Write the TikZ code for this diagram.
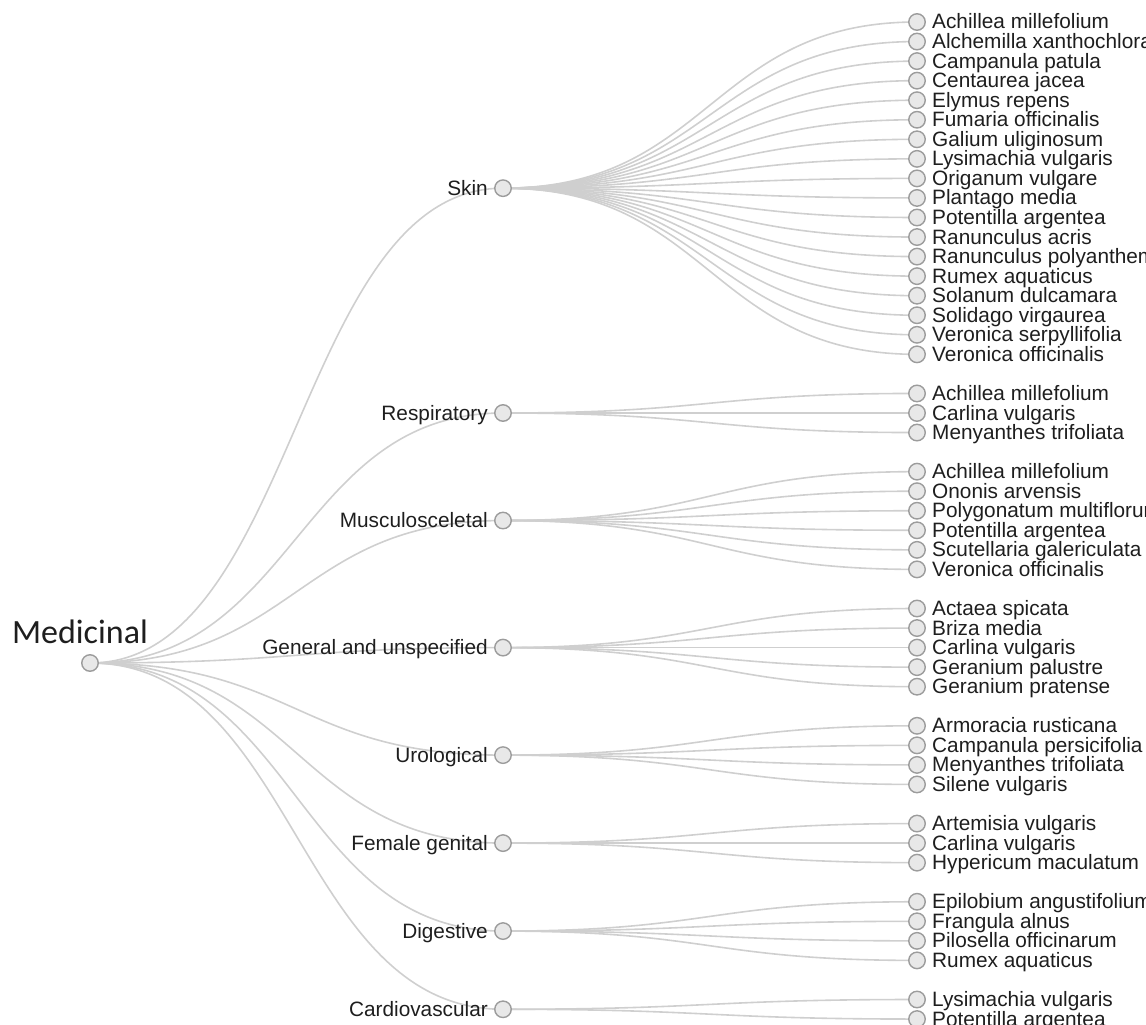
\documentclass[tikz,border=0pt]{standalone}
\usepackage{fontspec}
\setmainfont{Liberation Sans}
\newfontfamily\calibrifont{Carlito}
\usetikzlibrary{backgrounds}
\definecolor{dotline}{HTML}{9C9C9C}
\definecolor{dotfill}{HTML}{E8E8E8}
\definecolor{linkc}{HTML}{CFCFCF}
\definecolor{txtc}{HTML}{1E1E1E}
\begin{document}
\begin{tikzpicture}[x=1pt,y=-1pt,
  dot/.style={circle,draw=dotline,fill=dotfill,line width=1.4pt,minimum size=16.5pt,inner sep=0pt},
  lnk/.style={draw=linkc,line width=1.6pt},
  lbl/.style={font=\fontsize{20.8}{20.8}\selectfont,text=txtc,inner sep=0pt}]
\useasboundingbox (0,0) rectangle (1146,1025);
\clip (0,0) rectangle (1146,1025);
\node[dot] (root) at (90,663) {};
\node[font=\calibrifont\fontsize{34}{34}\selectfont,text=txtc,anchor=base,inner sep=0pt] (title) at ([xshift=-10pt,yshift=20pt]root.center) {Medicinal};
\foreach \cname/\ka/\kb/\leaves [count=\c] in {
  Skin/0/17/{Achillea millefolium,Alchemilla xanthochlora,Campanula patula,Centaurea jacea,Elymus repens,Fumaria officinalis,Galium uliginosum,Lysimachia vulgaris,Origanum vulgare,Plantago media,Potentilla argentea,Ranunculus acris,Ranunculus polyanthemos,Rumex aquaticus,Solanum dulcamara,Solidago virgaurea,Veronica serpyllifolia,Veronica officinalis},
  Respiratory/19/21/{Achillea millefolium,Carlina vulgaris,Menyanthes trifoliata},
  Musculosceletal/23/28/{Achillea millefolium,Ononis arvensis,Polygonatum multiflorum,Potentilla argentea,Scutellaria galericulata,Veronica officinalis},
  General and unspecified/30/34/{Actaea spicata,Briza media,Carlina vulgaris,Geranium palustre,Geranium pratense},
  Urological/36/39/{Armoracia rusticana,Campanula persicifolia,Menyanthes trifoliata,Silene vulgaris},
  Female genital/41/43/{Artemisia vulgaris,Carlina vulgaris,Hypericum maculatum},
  Digestive/45/48/{Epilobium angustifolium,Frangula alnus,Pilosella officinarum,Rumex aquaticus},
  Cardiovascular/50/51/{Lysimachia vulgaris,Potentilla argentea}}{
  \pgfmathsetmacro\cy{22+19.55*(\ka+\kb)/2}
  \node[dot] (c\c) at (503,\cy) {};
  \node[lbl,anchor=base east] (ct\c) at ([xshift=-15pt,yshift=-7pt]c\c.center) {\cname};
  \begin{scope}[on background layer]
    \draw[lnk] (root.center) .. controls +(206,0) and +(-206,0) .. (c\c.center);
  \end{scope}
  \foreach \leaf [count=\j from \ka] in \leaves {
    \pgfmathsetmacro\ly{22+19.55*\j}
    \node[dot] (c\c-\j) at (917,\ly) {};
    \node[lbl,anchor=base west] (t\c-\j) at ([xshift=15pt,yshift=-7pt]c\c-\j.center) {\leaf};
    \begin{scope}[on background layer]
      \draw[lnk] (c\c.center) .. controls +(207,0) and +(-207,0) .. (c\c-\j.center);
    \end{scope}
  }
}
\end{tikzpicture}
\end{document}
